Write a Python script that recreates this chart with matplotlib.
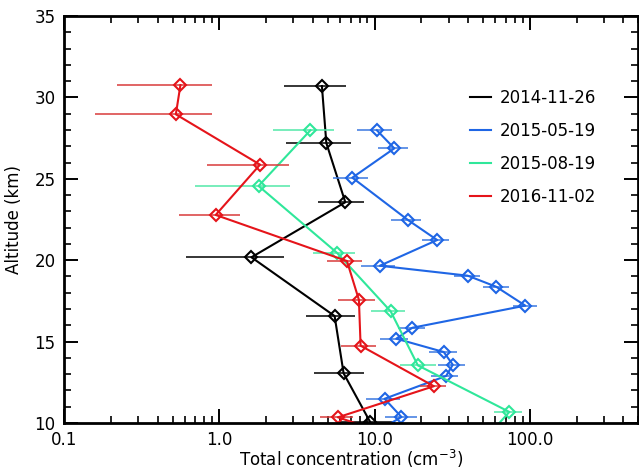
import matplotlib.pyplot as plt
from matplotlib.ticker import FixedLocator, MultipleLocator, LogLocator, NullFormatter

# Balloon profiles: altitude (km), total concentration (cm^-3), error bar low / high
alt_2014 = [30.70, 27.20, 23.56, 20.18, 16.57, 13.05, 10.05]
conc_2014 = [4.58, 4.89, 6.48, 1.61, 5.53, 6.32, 9.38]
lo_2014 = [2.61, 2.70, 4.30, 0.61, 3.64, 4.07, 6.0]
hi_2014 = [6.51, 7.08, 8.49, 2.61, 7.43, 8.53, 13.5]

alt_2015a = [27.98, 26.87, 25.07, 22.47, 21.24, 19.66, 19.05, 18.37, 17.21,
             15.85, 15.18, 14.36, 13.58, 12.89, 11.49, 10.37, 9.5]
conc_2015a = [10.35, 13.4, 7.19, 16.4, 25.3, 10.8, 39.8, 60.7, 93.5,
              17.5, 13.8, 27.9, 31.9, 28.9, 11.6, 14.9, 10.45]
lo_2015a = [7.69, 10.5, 5.40, 12.8, 20.3, 8.13, 32.7, 49.6, 77.5,
            14.1, 10.8, 22.3, 25.5, 23.2, 8.85, 11.6, 8.0]
hi_2015a = [12.9, 16.4, 9.06, 19.95, 30.3, 13.5, 48.1, 73.1, 111.0,
            21.0, 16.4, 33.8, 38.5, 34.7, 14.5, 18.7, 13.5]

alt_2015b = [27.98, 24.56, 20.46, 16.86, 13.54, 10.68, 9.5]
conc_2015b = [3.86, 1.79, 5.72, 12.7, 19.0, 73.8, 57.0]
lo_2015b = [2.22, 0.695, 4.01, 9.53, 14.5, 59.2, 46.0]
hi_2015b = [5.47, 2.84, 7.52, 15.8, 24.9, 89.0, 70.0]

alt_2016 = [30.76, 28.96, 25.87, 22.78, 19.95, 17.56, 14.75, 12.26, 10.35, 9.5]
conc_2016 = [0.562, 0.525, 1.83, 0.948, 6.64, 7.93, 8.13, 24.1, 5.81, 10.7]
lo_2016 = [0.220, 0.158, 0.832, 0.550, 4.97, 5.81, 6.04, 19.5, 4.43, 8.0]
hi_2016 = [0.904, 0.891, 2.81, 1.355, 8.34, 10.09, 10.14, 28.9, 7.21, 14.0]

labels = ['2014-11-26', '2015-05-19', '2015-08-19', '2016-11-02']
colors = ['black', '#1f66e5', '#2fe79a', '#e5141a']
bar_colors = ['black', '#3b78e0', '#52e8a8', '#d83a3a']

series = [
    (alt_2014, conc_2014, lo_2014, hi_2014),
    (alt_2015a, conc_2015a, lo_2015a, hi_2015a),
    (alt_2015b, conc_2015b, lo_2015b, hi_2015b),
    (alt_2016, conc_2016, lo_2016, hi_2016),
]

plt.rcParams['font.family'] = 'DejaVu Sans'
fig = plt.figure(figsize=(6.39, 4.71), dpi=100)
ax = fig.add_axes([0.1002, 0.1019, 0.8988, 0.8641])

for (alt, conc, lo, hi), lab, c, bc in zip(series, labels, colors, bar_colors):
    ax.hlines(alt, lo, hi, colors=bc, linewidth=1.1)
    ax.plot(conc, alt, color=c, linewidth=1.5, marker='D', markersize=6,
            markerfacecolor='none', markeredgewidth=1.5, label=lab)

ax.set_xscale('log')
ax.set_xlim(0.1, 500)
ax.set_ylim(10, 35)

ax.xaxis.set_major_locator(FixedLocator([0.1, 1, 10, 100]))
ax.set_xticklabels(['0.1', '1.0', '10.0', '100.0'])
ax.xaxis.set_minor_locator(LogLocator(base=10, subs=range(2, 10)))
ax.xaxis.set_minor_formatter(NullFormatter())
ax.yaxis.set_major_locator(MultipleLocator(5))
ax.yaxis.set_minor_locator(MultipleLocator(1))

ax.tick_params(which='both', direction='in', top=True, right=True, labelsize=12)
ax.tick_params(which='major', length=10, width=1.4)
ax.tick_params(which='minor', length=5, width=1.2)
ax.tick_params(axis='x', pad=6)
ax.tick_params(axis='y', pad=6)
for s in ax.spines.values():
    s.set_linewidth(2)

ax.set_xlabel('Total concentration (cm$^{-3}$)', fontsize=12, labelpad=-1)
ax.set_ylabel('Altitude (km)', fontsize=12, labelpad=8)

leg = ax.legend(loc='upper left', bbox_to_anchor=(0.68, 0.858), frameon=False,
                fontsize=12, handlelength=1.3, handletextpad=0.5, labelspacing=0.9)
for h in leg.legend_handles:
    h.set_marker('')

fig.savefig('out.png', dpi=100)
